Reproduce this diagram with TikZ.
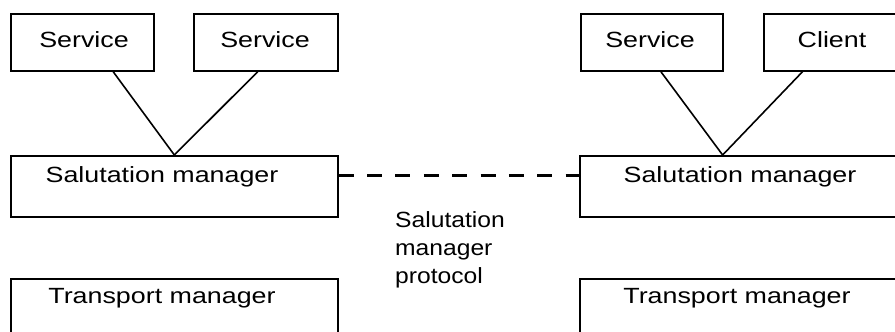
\documentclass[tikz,border=0pt]{standalone}
\usepackage{fontspec}
\setmainfont{Liberation Sans}[FakeStretch=1.22]
\newfontfamily\labelfont{Liberation Sans}[FakeStretch=1.12]
\usetikzlibrary{calc}
\begin{document}
\begin{tikzpicture}[x=1pt,y=-1pt,
  box/.style={draw, line width=1.7pt, inner sep=0pt, anchor=north west},
  txt/.style={font=\fontsize{22}{27}\selectfont, inner sep=0pt, anchor=base},
  conn/.style={line width=1.6pt},
  proto/.style={line width=3pt, dash pattern=on 15pt off 13.375pt}]
\useasboundingbox (0,0) rectangle (895,332);
\clip (0,0) rectangle (895,332);
% left stack
\node[box, minimum width=143pt, minimum height=57pt] (s1) at (10,13) {};
\node[box, minimum width=144pt, minimum height=57pt] (s2) at (193,13) {};
\node[box, minimum width=327pt, minimum height=61pt] (sal1) at (10,155) {};
\node[box, minimum width=327pt, minimum height=70pt] (tr1) at (10,278) {};
% right stack
\node[box, minimum width=142pt, minimum height=57pt] (s3) at (580,13) {};
\node[box, minimum width=143pt, minimum height=57pt] (cl) at (763,13) {};
\node[box, minimum width=327pt, minimum height=61pt] (sal2) at (579,155) {};
\node[box, minimum width=327pt, minimum height=70pt] (tr2) at (579,278) {};
% texts
\node[txt] (ts1) at (84,47) {Service};
\node[txt] (ts2) at (265,47) {Service};
\node[txt] (ts3) at (650,47) {Service};
\node[txt] (tcl) at (832,47) {Client};
\node[txt] (tsal1) at (162,182) {Salutation manager};
\node[txt] (tsal2) at (740,182) {Salutation manager};
\node[txt] (ttr1) at (162,303) {Transport manager};
\node[txt] (ttr2) at (737,303) {Transport manager};
\node[txt, font=\labelfont\fontsize{22}{28}\selectfont, anchor=base west, align=left] (proto) at (395,283) {Salutation\\manager\\protocol};
% connectors
\draw[conn] ($(s1.south west)!0.713!(s1.south east)$) -- (sal1.north);
\draw[conn] ($(s2.south west)!0.444!(s2.south east)$) -- (sal1.north);
\coordinate (j2) at ($(sal2.north west)!0.437!(sal2.north east)$);
\draw[conn] ($(s3.south west)!0.563!(s3.south east)$) -- (j2);
\draw[conn] ($(cl.south west)!0.273!(cl.south east)$) -- (j2);
\draw[proto] ($(sal1.north east)!0.32!(sal1.south east)$) -- ($(sal2.north west)!0.32!(sal2.south west)$);
\end{tikzpicture}
\end{document}
